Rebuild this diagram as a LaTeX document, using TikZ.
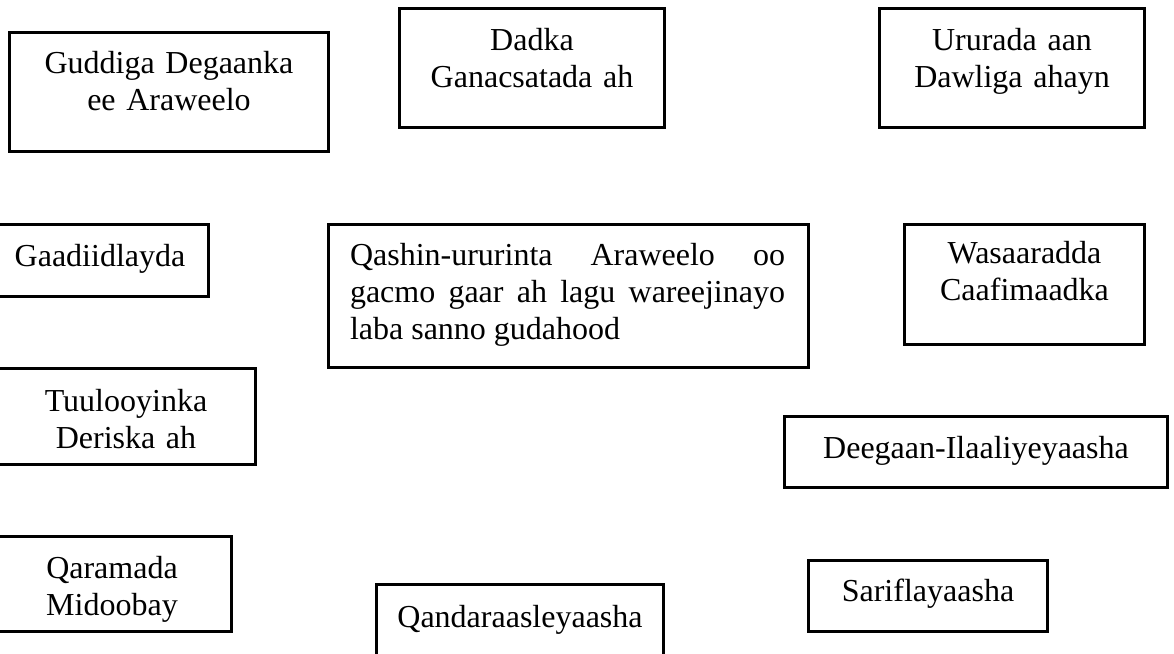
\documentclass[tikz,border=0pt]{standalone}
\usepackage{fontspec}
\setmainfont{Liberation Serif}
\begin{document}
\begin{tikzpicture}[x=1pt,y=1pt,
  box/.style={draw=black, line width=3pt, rectangle, inner sep=0pt, outer sep=0pt, anchor=north west},
  lbl/.style={font=\fontsize{32}{37}\selectfont, inner sep=0pt, anchor=base},
  mlbl/.style={lbl, text width=#1, align=center}]
\useasboundingbox (0,0) rectangle (1174,-653);
% boxes
\node[box, minimum width=319pt, minimum height=119pt] (b1) at (9.5,-32.5) {};
\node[box, minimum width=265pt, minimum height=119pt] (b2) at (399.5,-8.5) {};
\node[box, minimum width=265pt, minimum height=119pt] (b3) at (879.5,-8.5) {};
\node[box, minimum width=218.5pt, minimum height=72pt] (b4) at (-10,-224.5) {};
\node[box, minimum width=480pt, minimum height=143pt] (b5) at (328.5,-224.5) {};
\node[box, minimum width=240pt, minimum height=120pt] (b6) at (904.5,-224.5) {};
\node[box, minimum width=257.5pt, minimum height=96pt] (b7) at (-2,-368.5) {};
\node[box, minimum width=383pt, minimum height=71pt] (b8) at (784.5,-416.5) {};
\node[box, minimum width=240.5pt, minimum height=95pt] (b9) at (-9,-536.5) {};
\node[box, minimum width=287pt, minimum height=100pt] (b10) at (376.5,-584.5) {};
\node[box, minimum width=239pt, minimum height=71pt] (b11) at (808.5,-560.5) {};
% texts
\node[mlbl=300pt] (t1) at (169,-73) {Guddiga Degaanka\\ee Araweelo};
\node[mlbl=260pt] (t2) at (532,-50) {Dadka\\Ganacsatada ah};
\node[mlbl=260pt] (t3) at (1012,-50) {Ururada aan\\Dawliga ahayn};
\node[lbl] (t4) at (100,-266) {Gaadiidlayda};
\node[lbl, text width=435pt, align=justify] (t5) at (567.5,-265)
  {Qashin-ururinta Araweelo oo\linebreak gacmo gaar ah lagu wareejinayo\linebreak laba sanno gudahood};
\node[mlbl=235pt] (t6) at (1024.5,-263) {Wasaaradda\\Caafimaadka};
\node[mlbl=250pt] (t7) at (126,-411) {Tuulooyinka\\Deriska ah};
\node[lbl] (t8) at (976,-458) {Deegaan-Ilaaliyeyaasha};
\node[mlbl=230pt] (t9) at (112,-578) {Qaramada\\Midoobay};
\node[lbl] (t10) at (520,-627) {Qandaraasleyaasha};
\node[lbl] (t11) at (928,-601) {Sariflayaasha};
\end{tikzpicture}
\end{document}
